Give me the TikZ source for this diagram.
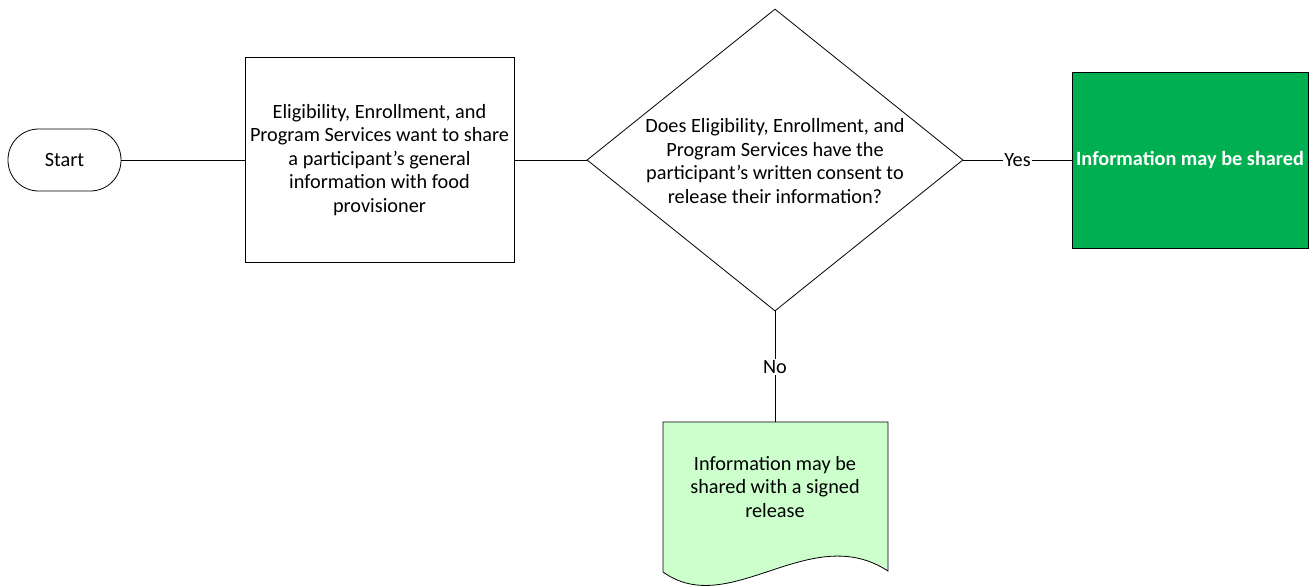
\documentclass[tikz,border=0pt]{standalone}
\usepackage{fontspec}
\setmainfont{Carlito}
\usetikzlibrary{shapes.geometric}
\definecolor{okgreen}{RGB}{0,176,80}
\definecolor{docgreen}{RGB}{204,255,204}
\begin{document}
\begin{tikzpicture}[x=0.75pt,y=-0.75pt,
  every node/.style={font=\fontsize{15.2}{17.6}\selectfont},
  conn/.style={draw=black,line width=0.6pt},
  terminal/.style={draw,line width=0.6pt,rectangle,rounded corners=23pt,minimum width=84.75pt,minimum height=46.5pt,inner sep=0pt},
  procbox/.style={draw,line width=0.6pt,rectangle,minimum width=201.75pt,minimum height=153.75pt,inner sep=0pt,align=center},
  decision/.style={draw,line width=0.6pt,diamond,minimum width=282pt,minimum height=226.5pt,inner sep=0pt},
  okbox/.style={draw,line width=0.6pt,fill=okgreen,rectangle,minimum width=177pt,minimum height=132pt,inner sep=0pt,text=white,font=\fontsize{15.2}{17.6}\selectfont\bfseries},
  lbl/.style={fill=white,inner sep=1pt}
]
\useasboundingbox (0,0) rectangle (1314,586);
\node[terminal] (start) at (64.5,160) {Start};
\node[procbox] (share) at (379.5,160) {Eligibility, Enrollment, and\\Program Services want to share\\a participant’s general\\information with food\\provisioner};
\node[decision] (dec) at (775,160) {};
\node[align=center] (dectext) at (775,161) {Does Eligibility, Enrollment, and\\Program Services have the\\participant’s written consent to\\release their information?};
\node[okbox] (yes) at (1190,160) {Information may be shared};
% document shape
\coordinate (doctop) at (775,422);
\draw[line width=0.6pt,fill=docgreen] (663,422) -- (888,422) -- (888,571)
  .. controls (810,520) and (730,620) .. (663,572) -- cycle;
\node[align=center] (doctext) at (775,487) {Information may be\\shared with a signed\\release};
\draw[conn] (start.east) -- (share.west);
\draw[conn] (share.east) -- (dec.west);
\draw[conn] (dec.east) -- node[lbl] {Yes} (yes.west);
\draw[conn] (dec.south) -- node[lbl] {No} (doctop);
\end{tikzpicture}
\end{document}
